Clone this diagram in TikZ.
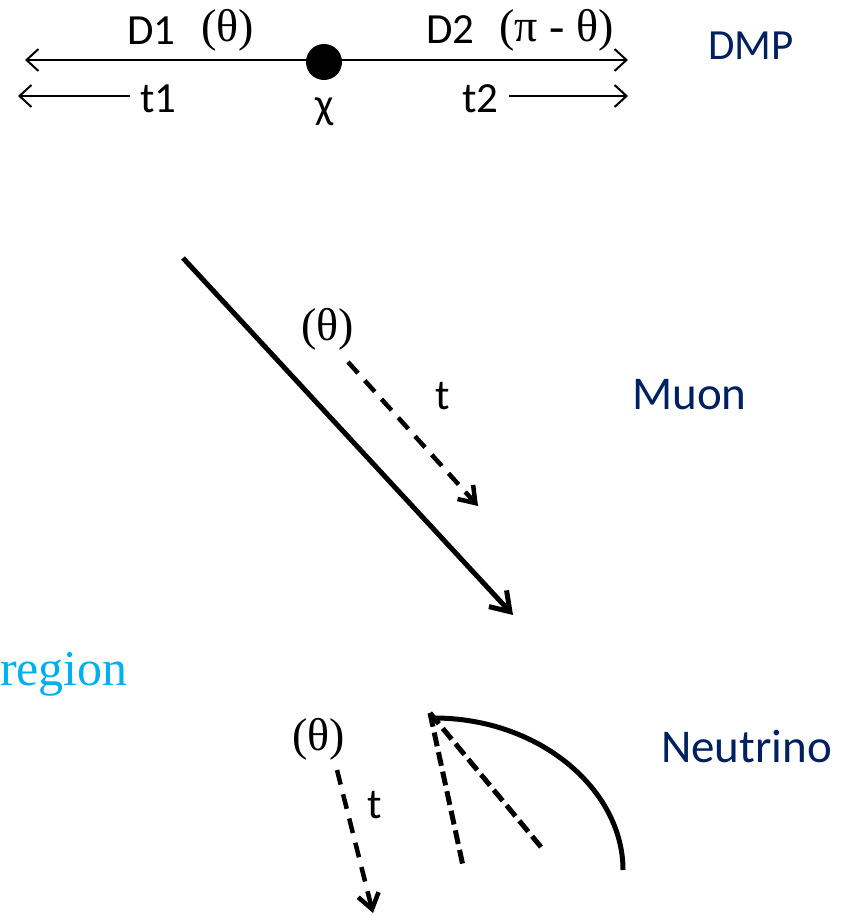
\documentclass[tikz,border=0pt]{standalone}
\usepackage{fontspec}
\setmainfont{Carlito}
\newfontfamily\greekserif{Liberation Serif}
\usetikzlibrary{positioning, arrows.meta}

\definecolor{navytext}{RGB}{0,32,96}
\definecolor{skytext}{RGB}{0,176,240}

\begin{document}
\begin{tikzpicture}[
	x=1pt, y=-1pt,
	% Define styles
	label/.style={inner sep=0pt, anchor=base west, font=\fontsize{43}{50}\selectfont},
	bigname/.style={inner sep=0pt, anchor=base west, text=navytext, font=\fontsize{47}{54}\selectfont},
	angle/.style={inner sep=0pt, anchor=base west, font=\fontsize{46}{52}\greekserif},
	thinarrow/.style={-{Straight Barb[length=12pt, width=22pt]}, line width=2pt},
	trackarrow/.style={-{Straight Barb[length=18pt, width=24pt]}, line width=5pt},
	timearrow/.style={-{Straight Barb[length=15pt, width=21pt]}, line width=4.5pt, dash pattern=on 15pt off 10pt},
	fanline/.style={line width=5pt, dash pattern=on 14pt off 6pt}
	]
	\useasboundingbox (0,0) rectangle (844,915);

	% 1. DMP decay
	\node[circle, fill=black, minimum size=36pt, inner sep=0pt] (chi) at (324,62) {};
	\coordinate (d1end) at (25,60);
	\coordinate (d2end) at (628,60);
	\draw[{Straight Barb[length=12pt, width=22pt]}-{Straight Barb[length=12pt, width=22pt]}, line width=2pt] (d1end) -- (d2end);

	\node[label] (d1) at (127,45) {D1};
	\node[angle] (d1angle) at (201,42) {(θ)};
	\node[label] (d2) at (426,44) {D2};
	\node[angle] (d2angle) at (499,42) {(π - θ)};
	\node[label, text=navytext] (dmp) at (708,60) {DMP};

	\node[label] (t1) at (140,113) {t1};
	\node[label, anchor=base] (chilabel) at (325,118) {χ};
	\node[label] (t2) at (462,113) {t2};
	\coordinate (t1end) at (18,96);
	\coordinate (t2end) at (628,96);
	\draw[thinarrow] ([xshift=-10pt]t1.west |- t1end) -- (t1end);
	\draw[thinarrow] ([xshift=10pt]t2.east |- t2end) -- (t2end);

	% 2. Muon
	\coordinate (muonstart) at (183,258);
	\coordinate (muonend) at (513,615);
	\draw[trackarrow] (muonstart) -- (muonend);
	\node[angle] (muonangle) at (301,340) {(θ)};
	\coordinate (muontstart) at (348,362);
	\coordinate (muontend) at (478,506);
	\draw[timearrow] (muontstart) -- (muontend);
	\node[label, anchor=base] (muont) at (443,409) {t};
	\node[bigname] (muon) at (632,409) {Muon};

	% 3. Neutrino
	\node[inner sep=0pt, anchor=base east, text=skytext, font=\fontsize{50}{58}\greekserif] (region) at (128,685) {region};
	\node[angle] (nuangle) at (292,750) {(θ)};
	\coordinate (nutstart) at (337,770);
	\coordinate (nutend) at (373,913);
	\draw[timearrow] (nutstart) -- (nutend);
	\node[label, anchor=base] (nut) at (375,818) {t};
	\node[bigname] (neutrino) at (661,762) {Neutrino};

	\coordinate (apex) at (430,713);
	\coordinate (fanleft) at (463,866);
	\coordinate (fanright) at (541,847);
	\coordinate (arcstart) at (434,718);
	\coordinate (arcend) at (623,870);
	\draw[fanline] (apex) -- (fanleft);
	\draw[fanline] (apex) -- (fanright);
	\draw[line width=5pt] (arcstart) .. controls (540,718) and (623,790) .. (arcend);
\end{tikzpicture}
\end{document}
